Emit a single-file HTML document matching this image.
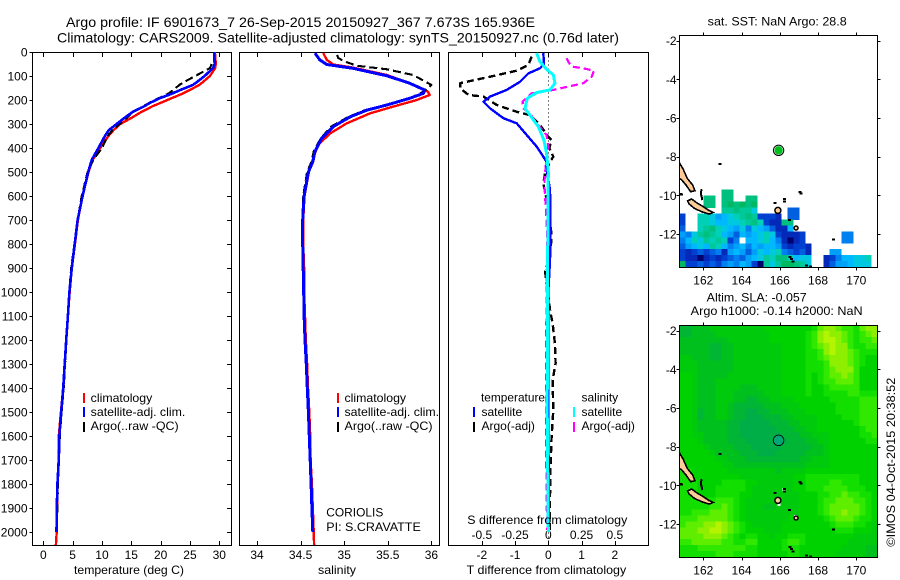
<!DOCTYPE html>
<html lang="en">
<head>
<meta charset="utf-8">
<title>Argo profile</title>
<style>
html,body{margin:0;padding:0;background:#fff;}
svg{display:block;}
text{font-family:"Liberation Sans",Arial,sans-serif;fill:#000;font-size:12px;}
.t14{font-size:14px;}
.mark{fill:none;stroke-linejoin:round;shape-rendering:crispEdges;}
.crisp{shape-rendering:crispEdges;}
</style>
</head>
<body>
<svg id="fig" xmlns="http://www.w3.org/2000/svg" width="900" height="580" viewBox="0 0 900 580">
  <rect x="0" y="0" width="900" height="580" fill="#fff"/>
  <defs>
    <clipPath id="clip-map1"><rect x="679.5" y="35" width="198" height="232.3"/></clipPath>
    <clipPath id="clip-map2"><rect x="679.5" y="325" width="198" height="232.3"/></clipPath>
    <clipPath id="clip-p1"><rect x="32.5" y="52" width="199" height="493.5"/></clipPath>
    <clipPath id="clip-p2"><rect x="239.5" y="52" width="200" height="493.5"/></clipPath>
    <clipPath id="clip-p3"><rect x="448.5" y="52" width="200" height="493.5"/></clipPath>
  </defs>

  <text class="t14" x="66" y="27" textLength="469" lengthAdjust="spacingAndGlyphs">Argo profile: IF 6901673_7 26-Sep-2015 20150927_367 7.673S 165.936E</text>
  <text class="t14" x="57" y="42.5" textLength="562" lengthAdjust="spacingAndGlyphs">Climatology: CARS2009. Satellite-adjusted climatology: synTS_20150927.nc (0.76d later)</text>

  <g id="panel-temp"></g>
  <g id="panel-sal"></g>
  <g id="panel-diff"></g>
  <g id="map-sst"></g>
  <g id="map-sla"></g>

  <text x="74" y="574" textLength="110" lengthAdjust="spacingAndGlyphs">temperature (deg C)</text>
  <text x="318" y="574" textLength="38" lengthAdjust="spacingAndGlyphs">salinity</text>
  <text x="466.7" y="574" textLength="159.5" lengthAdjust="spacingAndGlyphs">T difference from climatology</text>
  <text x="467.3" y="524" textLength="160" lengthAdjust="spacingAndGlyphs">S difference from climatology</text>

  <g>
    <rect class="crisp" x="83" y="393" width="2" height="10" fill="#f00"/>
    <rect class="crisp" x="83" y="407" width="2" height="10" fill="#00f"/>
    <rect class="crisp" x="83" y="422" width="2" height="10" fill="#000"/>
    <text x="90.7" y="402" textLength="61.6" lengthAdjust="spacingAndGlyphs">climatology</text>
    <text x="90.7" y="416" textLength="94.6" lengthAdjust="spacingAndGlyphs">satellite-adj. clim.</text>
    <text x="90.7" y="430" textLength="88" lengthAdjust="spacingAndGlyphs">Argo(..raw -QC)</text>
  </g>
  <g>
    <rect class="crisp" x="337" y="393" width="2" height="10" fill="#f00"/>
    <rect class="crisp" x="337" y="407" width="2" height="10" fill="#00f"/>
    <rect class="crisp" x="337" y="422" width="2" height="10" fill="#000"/>
    <text x="344.5" y="402" textLength="61.6" lengthAdjust="spacingAndGlyphs">climatology</text>
    <text x="344.5" y="416" textLength="94.6" lengthAdjust="spacingAndGlyphs">satellite-adj. clim.</text>
    <text x="344.5" y="430" textLength="88" lengthAdjust="spacingAndGlyphs">Argo(..raw -QC)</text>
  </g>
  <g>
    <text x="481" y="401.5" textLength="64" lengthAdjust="spacingAndGlyphs">temperature</text>
    <rect class="crisp" x="473" y="407" width="2" height="10" fill="#00f"/>
    <rect class="crisp" x="473" y="422" width="2" height="10" fill="#000"/>
    <text x="481.5" y="416">satellite</text>
    <text x="481.5" y="430">Argo(-adj)</text>
    <text x="581.5" y="401.5">salinity</text>
    <rect class="crisp" x="573" y="407" width="2" height="10" fill="#0ff"/>
    <rect class="crisp" x="573" y="422" width="2" height="10" fill="#f0f"/>
    <text x="581.5" y="416">satellite</text>
    <text x="581.5" y="430">Argo(-adj)</text>
  </g>
  <text x="326.3" y="516.7" textLength="57" lengthAdjust="spacingAndGlyphs">CORIOLIS</text>
  <text x="326.3" y="531" textLength="94.5" lengthAdjust="spacingAndGlyphs">PI: S.CRAVATTE</text>

  <text x="707.7" y="25.7" textLength="139" lengthAdjust="spacingAndGlyphs">sat. SST: NaN Argo: 28.8</text>
  <text x="706.7" y="301.7" textLength="100" lengthAdjust="spacingAndGlyphs">Altim. SLA: -0.057</text>
  <text x="690.7" y="315" textLength="172" lengthAdjust="spacingAndGlyphs">Argo h1000: -0.14 h2000: NaN</text>
  <text transform="translate(895 546.7) rotate(-90)" x="0" y="0" textLength="169" lengthAdjust="spacingAndGlyphs">©IMOS 04-Oct-2015 20:38:52</text>
</svg>

<script>
/* ---------- profile data ---------- */
var depthTicks = [0,100,200,300,400,500,600,700,800,900,1000,1100,1200,1300,1400,1500,1600,1700,1800,1900,2000];
var tempTicks = [0,5,10,15,20,25,30];
var salTicks = [34,34.5,35,35.5,36];
var tDiffTicks = [-2,-1,0,1,2];
var sDiffTicks = [-0.5,-0.25,0,0.25,0.5];
var sDiffLabels = ["-0.5","-0.25","0","0.25","0.5"];

var tempDepths = [0,50,67,100,125,137,158,175,192,213,225,250,275,300,325,350,400,450,500,600,700,800,900,1000,1100,1200,1300,1400,1500,1600,1700,1800,1900,2000,2054];
var tempClim = [29.25,29.4,29.3,28.4,27.2,26.6,25.0,23.6,21.9,19.9,18.7,16.7,15.0,13.1,12.0,11.1,9.7,8.4,7.7,6.7,5.9,5.4,4.85,4.5,4.2,3.9,3.65,3.4,3.0,2.65,2.6,2.4,2.33,2.28,2.15];
var tempSat = [29.15,29.2,28.95,27.5,26.2,25.5,23.4,21.8,19.9,18.1,17.3,15.2,13.8,12.5,11.2,10.5,9.4,8.25,7.65,6.7,5.85,5.35,4.85,4.45,4.2,3.9,3.65,3.4,3.05,2.75,2.65,2.4,2.3,2.25,null];
var tempArgo = [null,28.7,28.4,25.9,24.0,23.2,22.2,21.2,19.7,18.0,17.1,15.3,14.2,13.0,11.8,11.0,10.0,8.5,7.55,6.55,5.85,5.3,4.75,4.42,4.22,3.95,3.72,3.48,3.12,2.82,2.7,2.5,2.38,2.3,null];

var salClimDepths = [5,33,52,65,96,130,165,179,200,228,255,297,339,387,443,500,600,700,800,900,1000,1100,1200,1300,1400,1500,1600,1700,1800,1900,2000,2054];
var salClim = [34.76,34.80,34.875,35.10,35.49,35.75,35.96,35.98,35.83,35.56,35.30,35.03,34.84,34.70,34.645,34.595,34.545,34.53,34.53,34.54,34.54,34.55,34.56,34.575,34.585,34.60,34.61,34.615,34.63,34.64,34.65,34.655];
var salSatDepths = [5,33,52,68,99,130,158,172,193,221,242,270,311,360,415,457,500,600,700,800,900,1000,1100,1200,1300,1400,1500,1600,1700,1800,1900,2000];
var salSat = [34.665,34.72,34.80,35.10,35.49,35.75,35.92,35.91,35.75,35.49,35.26,35.07,34.875,34.74,34.665,34.64,34.59,34.54,34.524,34.524,34.53,34.535,34.54,34.55,34.565,34.577,34.59,34.60,34.61,34.62,34.63,34.64];
var salArgoDepths = [12,24,37,57,72,96,137,165,193,221,242,270,311,360,415,457,500,600,700,800,900,1000,1100,1200,1300,1400,1500,1600,1700,1800,1900,2000];
var salArgo = [34.92,34.93,34.99,35.14,35.49,35.79,36.0,35.91,35.75,35.47,35.24,35.05,34.85,34.73,34.65,34.625,34.575,34.53,34.52,34.522,34.528,34.533,34.54,34.55,34.563,34.572,34.583,34.595,34.61,34.62,34.628,34.64];

var dtSatDepths = [5,50,68,89,124,158,186,207,235,276,297,346,394,457,505,575,742,867,1000,1500,2000];
var dtSat = [-0.15,-0.13,-0.25,-0.6,-0.85,-1.25,-1.75,-1.95,-1.75,-1.35,-0.95,-0.65,-0.35,-0.05,-0.03,0.05,0.07,0.05,0.0,0.0,0.02];
var dtArgoDepths = [19,54,78,103,130,151,179,186,221,249,263,304,353,367,401,436,464,505,547,603,672,742,770,853,915,978,1075,1130,1214,1297,1367,1492,1603,1714,1853,1964,2000];
var dtArgo = [-0.5,-0.6,-0.95,-1.75,-2.65,-2.65,-2.4,-1.95,-1.55,-0.95,-0.55,-0.25,0,0.1,0.03,0.15,0.03,-0.1,-0.15,-0.07,0.03,0.08,0.1,0.05,-0.1,-0.03,0.05,0.13,0.2,0.22,0.13,0.15,0.1,0.07,0.05,0.05,0.04];
var dsArgoDepths = [26,40,61,68,78,103,130,144,161,172,207,235,255,297,346,394,464,547,658,755,1325,1547,1853,1992];
var dsArgo = [0.138,0.15,0.175,0.263,0.343,0.326,0.263,0.15,0.013,-0.125,-0.193,-0.188,-0.138,-0.088,-0.013,0,-0.018,-0.03,-0.018,-0.008,-0.018,-0.018,-0.013,-0.008];
var dsSatDepths = [5,40,72,96,130,158,169,193,235,263,311,367,422,500,900,1500,2000];
var dsSat = [-0.088,-0.063,-0.013,0.038,0.05,0.013,-0.088,-0.158,-0.175,-0.138,-0.075,-0.033,-0.013,0,-0.005,-0.008,0];

/* ---------- map data ---------- */
var lonTicks = [162,164,166,168,170];
var latTicks = [-2,-4,-6,-8,-10,-12];
var argoLon = 165.936;
var argoLat = -7.673;

/* SST: one char per cell, hex colour level, "." = no data; row index = array index */
var sstLevels = ["#00006e","#0428b8","#0040d0","#0060e0","#0080f0","#00a0f8","#00b8ff","#00c8e0","#00d0b8","#00c898","#00c080","#00b860"];
var sstFirstRow = 26;
var sstRows = [
".......aa",
"....aa.aa..aa",
"....aa.ababab",
".......99a997.....33",
"2..88756789a92221.33",
"2..887667789a8211aa",
"3..89a8765747653116",
"5479a9865365678721112......44",
"4687989824.6678641012......44",
"3567698645646566521221",
"2123234156535767843231...55",
"2110121234356798aa8677..12466778",
"b2232324546520979bba97..13556777"
];

/* SLA: one digit per cell */
var slaLevels = ["#00ae48","#00b634","#00c01e","#00ca0c","#00d200","#12de00","#30e800","#60ee00","#8ef000","#b4f400"];
var slaRows = [
"112223333333334444444457887665788",
"112222333333333444444568988765678",
"222222223333333444444568998765667",
"222221122333333334444567898865566",
"222221122333333334444556898876555",
"332221122333333334444556788876544",
"333222222333333334444555688876544",
"333222222333333334444555678886444",
"443222223333333334444545677876444",
"443222333333333334444545667776444",
"443222333322233334444544566666444",
"443222333222223334444544555566555",
"443222333221122333344444455555666",
"443222332111112223334444445555666",
"443122332110011222333444445555666",
"443122332110001112233334444555666",
"443222221100000111223334444445666",
"443222221100000011122334444444566",
"443322221100000001112233344444556",
"444322221110000000111223344444455",
"444432222111000001111122344444444",
"444443222211100011111222344444444",
"444444332221111111112233344444444",
"444444433222222222222333344444444",
"554444443333333323333444444444444",
"554444444433333333344555555555444",
"555444455554433333344555566555444",
"555444555554333333344555666655544",
"555444555544333333334445566766554",
"555555666543333333334445667776654",
"555556676543332233334445677777654",
"556667776543333333334445677877654",
"666777776543333333444444567776554",
"677788987654333334444444456665543",
"777889987654443334444444445554443",
"777788876545544344555444444443333",
"667777766556644445665444444433333",
"555666666665544445554444444333322",
"555555666555544444554444443333322"
];

/* coastlines, lon/lat */
var coastMalaitaLon = [160.745,160.95,161.16,161.44,161.56,161.34,161.09,160.87,160.745];
var coastMalaitaLat = [-8.31,-8.65,-9.12,-9.46,-9.76,-9.81,-9.46,-9.20,-9.12];
var coastGuadalcanalLon = [161.18,161.39,161.65,162.0,162.31,162.52,162.31,161.96,161.56,161.27];
var coastGuadalcanalLat = [-10.29,-10.19,-10.38,-10.59,-10.79,-10.88,-10.97,-10.86,-10.69,-10.46];
var coastIsabelLon = [161.9,161.88,161.92,161.95];
var coastIsabelLat = [-9.68,-9.95,-10.1,-10.25];
var peachIslandLon = [165.9,166.85];
var peachIslandLat = [-10.78,-11.69];
var peachIslandRadius = [3,2];
var smallIslandLon = [162.87,160.8,160.87,167.05,167.12,166.25,166.25,165.75,166.5,168.8,166.54,166.6,166.68,167.4,167.6];
var smallIslandLat = [-8.39,-9.93,-9.95,-9.83,-9.9,-10.2,-10.32,-10.4,-11.28,-12.29,-13.2,-13.3,-13.43,-13.62,-13.68];
var maskLon = [161.38,166.22,165.95,166.83,161.36];
var maskLat = [-9.65,-10.22,-10.98,-11.6,-10.25];

/* ---------- helpers ---------- */
var NS = "http://www.w3.org/2000/svg";
function mk(tag, attrs, parent) {
  var el = document.createElementNS(NS, tag);
  for (var k in attrs) el.setAttribute(k, attrs[k]);
  parent.appendChild(el);
  return el;
}
function yDepth(d) { return 52 + 0.24 * d; }
function xTemp(v) { return 43.3 + 5.867 * v; }
function xSal(v) { return 257 + 87.2 * (v - 34); }
function xDT(v) { return 548.3 + 33.25 * v; }
function xDS(v) { return 548.3 + 133 * v; }
function xLon(v) { return 703.3 + 19.125 * (v - 162); }
function ySst(v) { return 40.7 + 19.33 * (-2 - v); }
function ySla(v) { return 330.7 + 19.33 * (-2 - v); }

function frame(parent, x0, x1, y0, y1, name) {
  var r = mk("rect", {x:x0, y:y0, width:x1 - x0, height:y1 - y0, fill:"none", stroke:"#000", "stroke-width":1, "class":"crisp"}, parent);
  
  
  return r;
}
function line(parent, x1, y1, x2, y2, name) {
  var l = mk("line", {x1:x1, y1:y1, x2:x2, y2:y2, stroke:"#000", "stroke-width":1, "class":"crisp"}, parent);
  
  
  return l;
}
function label(parent, x, y, str, anchor, name) {
  var t = mk("text", {x:x, y:y, "text-anchor":anchor}, parent);
  t.textContent = str;
  
  
  return t;
}
function curve(parent, depths, vals, xf, color, width, dash, clip, name) {
  var pts = [];
  for (var i = 0; i < depths.length; i++) {
    if (vals[i] === null || vals[i] === undefined) continue;
    pts.push(xf(vals[i]).toFixed(1) + "," + yDepth(depths[i]).toFixed(1));
  }
  var p = mk("polyline", {points:pts.join(" "), stroke:color, "stroke-width":width, "class":"mark", "clip-path":"url(#" + clip + ")"}, parent);
  if (dash) p.setAttribute("stroke-dasharray", dash);
  
  
  return p;
}

/* ---------- profile panels ---------- */
var pTemp = document.getElementById("panel-temp");
var pSal = document.getElementById("panel-sal");
var pDiff = document.getElementById("panel-diff");
var axTop = 52.5, axBot = 545.5;

frame(pTemp, 32.5, 231.5, axTop, axBot, "temperature-axes-frame");
frame(pSal, 239.5, 439.5, axTop, axBot, "salinity-axes-frame");
frame(pDiff, 448.5, 648.5, axTop, axBot, "difference-axes-frame");

depthTicks.forEach(function (d) {
  var y = Math.round(yDepth(d)) + 0.5;
  line(pTemp, 29.5, y, 32.5, y, "depth-tick-left");
  line(pTemp, 227, y, 231.5, y, "depth-tick-right");
  label(pTemp, 27.5, yDepth(d) + 4.5, String(d), "end", "depth-tick-label");
});
tempTicks.forEach(function (v) {
  var x = Math.round(xTemp(v)) + 0.5;
  line(pTemp, x, axTop, x, axTop + 4.5, "temperature-tick-top");
  line(pTemp, x, axBot - 4.5, x, axBot, "temperature-tick-bottom");
  label(pTemp, xTemp(v), 559, String(v), "middle", "temperature-tick-label");
});
salTicks.forEach(function (v) {
  var x = Math.round(xSal(v)) + 0.5;
  line(pSal, x, axTop, x, axTop + 4.5, "salinity-tick-top");
  line(pSal, x, axBot - 4.5, x, axBot, "salinity-tick-bottom");
  label(pSal, xSal(v), 559, String(v), "middle", "salinity-tick-label");
});
tDiffTicks.forEach(function (v) {
  var x = Math.round(xDT(v)) + 0.5;
  line(pDiff, x, axTop, x, axTop + 4.5, "t-difference-tick-top");
  line(pDiff, x, axBot - 4.5, x, axBot, "t-difference-tick-bottom");
  label(pDiff, xDT(v), 559, String(v), "middle", "t-difference-tick-label");
});
sDiffTicks.forEach(function (v, i) {
  label(pDiff, xDS(v), 539, sDiffLabels[i], "middle", "s-difference-tick-label");
});

curve(pTemp, tempDepths, tempClim, xTemp, "#f00", 2.4, null, "clip-p1", "temperature-climatology-line");
curve(pTemp, tempDepths, tempArgo, xTemp, "#000", 2.1, "8 4", "clip-p1", "temperature-argo-line");
curve(pTemp, tempDepths, tempSat, xTemp, "#00f", 2.6, null, "clip-p1", "temperature-satellite-line");

curve(pSal, salClimDepths, salClim, xSal, "#f00", 2.4, null, "clip-p2", "salinity-climatology-line");
curve(pSal, salArgoDepths, salArgo, xSal, "#000", 2.1, "8 4", "clip-p2", "salinity-argo-line");
curve(pSal, salSatDepths, salSat, xSal, "#00f", 3, null, "clip-p2", "salinity-satellite-line");

var zero = line(pDiff, 548.5, 52.5, 548.5, 545, "zero-difference-line");
zero.setAttribute("stroke-dasharray", "1 3");
curve(pDiff, dtArgoDepths, dtArgo, xDT, "#000", 2.4, "7 4", "clip-p3", "t-difference-argo-line");
curve(pDiff, dsArgoDepths, dsArgo, xDS, "#f0f", 2.2, "7 4", "clip-p3", "s-difference-argo-line");
curve(pDiff, dtSatDepths, dtSat, xDT, "#00f", 2.4, null, "clip-p3", "t-difference-satellite-line");
curve(pDiff, dsSatDepths, dsSat, xDS, "#0ff", 3, null, "clip-p3", "s-difference-satellite-line");

/* ---------- maps ---------- */
var cellLon = 6 / 19.125, cellLat = 5.95 / 19.33, lon0 = 160.745, lat0 = -1.705;

function drawCells(parent, rows, firstRow, levels, yf, clip, name) {
  var g = mk("g", {"clip-path":"url(#" + clip + ")", "class":"crisp"}, parent);
  
  
  rows.forEach(function (row, r) {
    for (var c = 0; c < row.length; c++) {
      var ch = row.charAt(c);
      if (ch === ".") continue;
      var lv = parseInt(ch, 16);
      var xa = xLon(lon0 + c * cellLon), xb = xLon(lon0 + (c + 1) * cellLon);
      var ya = yf(lat0 - (firstRow + r) * cellLat), yb = yf(lat0 - (firstRow + r + 1) * cellLat);
      var cell = mk("rect", {x:xa.toFixed(2), y:ya.toFixed(2), width:(xb - xa + 0.3).toFixed(2), height:(yb - ya + 0.3).toFixed(2), fill:levels[lv]}, g);
      
      
    }
  });
}
function drawCoast(parent, yf, clip) {
  var g = mk("g", {"clip-path":"url(#" + clip + ")"}, parent);
  
  
  function poly(lons, lats, closed, name) {
    var pts = lons.map(function (v, i) { return xLon(v).toFixed(1) + "," + yf(lats[i]).toFixed(1); }).join(" ");
    var el = mk(closed ? "polygon" : "polyline", {points:pts, fill:closed ? "#ffcc99" : "none", stroke:"#000", "stroke-width":closed ? 1.6 : 2, "class":"crisp"}, g);
    
    
  }
  poly(coastMalaitaLon, coastMalaitaLat, true, "island-malaita");
  poly(coastGuadalcanalLon, coastGuadalcanalLat, true, "island-guadalcanal");
  poly(coastIsabelLon, coastIsabelLat, false, "island-small-strip");
  peachIslandLon.forEach(function (v, i) {
    var pi = mk("circle", {cx:xLon(v), cy:yf(peachIslandLat[i]), r:peachIslandRadius[i], fill:"#ffcc99", stroke:"#000", "stroke-width":1.5}, g);
    
    
  });
  smallIslandLon.forEach(function (v, i) {
    var si = mk("rect", {x:xLon(v) - 1.5, y:yf(smallIslandLat[i]) - 1, width:3, height:2, fill:"#000", "class":"crisp"}, g);
    
    
  });
}
function drawAxes(parent, top, bot, yf, name) {
  var left = 679.5, right = 877.5;
  frame(parent, left, right, top, bot, name + "-frame");
  lonTicks.forEach(function (v) {
    var x = Math.round(xLon(v)) + 0.5;
    line(parent, x, top - 3, x, top, name + "-lon-tick-top");
    line(parent, x, bot, x, bot + 3, name + "-lon-tick-bottom");
    label(parent, xLon(v), bot + 17, String(v), "middle", name + "-lon-label");
  });
  latTicks.forEach(function (v) {
    var y = Math.round(yf(v)) + 0.5;
    line(parent, left - 3, y, left, y, name + "-lat-tick-left");
    line(parent, right, y, right + 3, y, name + "-lat-tick-right");
    label(parent, 676.5, yf(v) + 4.5, String(v), "end", name + "-lat-label");
  });
}
function drawMarker(parent, yf, fill, inner, name) {
  var ring = mk("circle", {cx:xLon(argoLon), cy:yf(argoLat), r:5.2, fill:"#fff", stroke:"#000", "stroke-width":1}, parent);
  
  
  var dot = mk("circle", {cx:xLon(argoLon), cy:yf(argoLat), r:inner, fill:fill}, parent);
  
  
}

var mSst = document.getElementById("map-sst");
var mSla = document.getElementById("map-sla");

drawCells(mSst, sstRows, sstFirstRow, sstLevels, ySst, "clip-map1", "sst");
drawCoast(mSst, ySst, "clip-map1");
drawAxes(mSst, 35.5, 267.5, ySst, "sst-map");
drawMarker(mSst, ySst, "#00c020", 4.2, "sst-argo-marker");

drawCells(mSla, slaRows, 0, slaLevels, ySla, "clip-map2", "sla");
maskLon.forEach(function (v, i) {
  var w = mk("rect", {x:xLon(v) - 1.5, y:ySla(maskLat[i]) - 1.5, width:3, height:3, fill:"#fff", "class":"crisp"}, mSla);
  
  
});
drawCoast(mSla, ySla, "clip-map2");
drawAxes(mSla, 325.5, 557.5, ySla, "sla-map");
drawMarker(mSla, ySla, "#00a878", 4.8, "sla-argo-marker");
</script>
</body>
</html>
